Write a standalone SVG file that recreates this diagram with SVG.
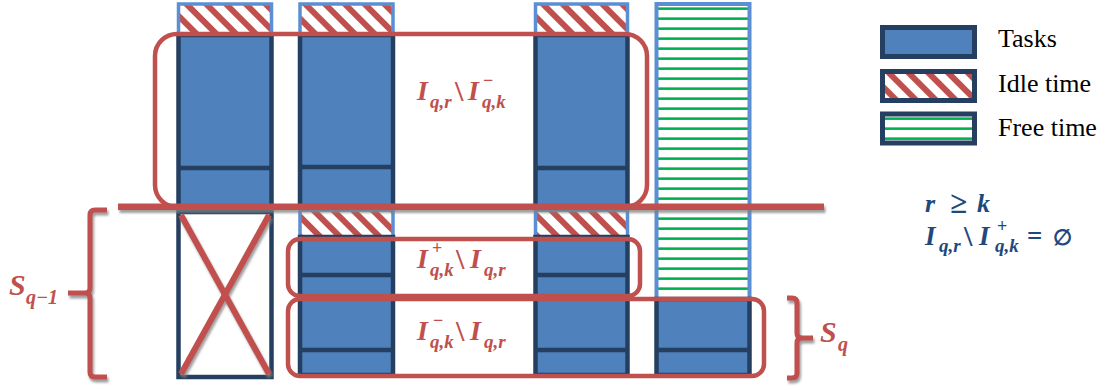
<svg xmlns="http://www.w3.org/2000/svg" width="1110" height="390" viewBox="0 0 1110 390">
<defs>
  <pattern id="hatch" patternUnits="userSpaceOnUse" width="14" height="14" patternTransform="rotate(-45)">
    <rect x="0" y="0" width="14" height="14" fill="#ffffff"/>
    <rect x="0" y="0" width="6" height="14" fill="#C0504D"/>
  </pattern>
  <pattern id="free" patternUnits="userSpaceOnUse" width="10" height="10">
    <rect x="0" y="0" width="10" height="10" fill="#ffffff"/>
    <rect x="0" y="7" width="10" height="3.4" fill="#B9E8C8"/>
    <rect x="0" y="7.5" width="10" height="2.4" fill="#00B050"/>
  </pattern>
  <filter id="sh" filterUnits="userSpaceOnUse" x="0" y="0" width="1110" height="390">
    <feDropShadow dx="1.5" dy="3" stdDeviation="0.8" flood-color="#808080" flood-opacity="0.75"/>
  </filter>
</defs>
<style>
  .task{fill:#4F81BD;stroke:#243F60;stroke-width:4.5}
  .div{stroke:#243F60;stroke-width:4.5}
  .idle{fill:url(#hatch);stroke:#5B8ED2;stroke-width:3.5}
  .freebox{fill:url(#free);stroke:#5B8ED2;stroke-width:4}
  .empty{fill:#ffffff;stroke:#243F60;stroke-width:4.5}
  .redrect{fill:none;stroke:#C0504D;stroke-width:4.5}
  .red{stroke:#C0504D;fill:none;stroke-linecap:butt}
  .m{font-family:"Liberation Serif","DejaVu Serif",serif;font-weight:bold;font-style:italic}
  .up{font-style:normal}
  .rt{fill:#C0504D}
  .bt{fill:#1F497D}
  .leg{font-family:"Liberation Serif","Times New Roman",serif;font-size:26px;fill:#000000}
  .lbox{stroke:#243F60;stroke-width:5}
</style>

<g id="column1">
  <rect class="idle" x="178.5" y="4" width="93" height="31"/>
  <rect class="task" x="178.5" y="35" width="93" height="172"/>
  <line class="div" x1="178.5" y1="168" x2="271.5" y2="168"/>
  <rect class="empty" x="178.5" y="212" width="93" height="165"/>
</g>
<g id="column2">
  <rect class="idle" x="300" y="4" width="93" height="31"/>
  <rect class="task" x="300" y="35" width="93" height="172"/>
  <line class="div" x1="300" y1="167" x2="393" y2="167"/>
  <rect class="idle" x="300" y="210" width="93" height="27"/>
  <rect class="task" x="300" y="237" width="93" height="138"/>
  <line class="div" x1="300" y1="275" x2="393" y2="275"/>
  <line class="div" x1="300" y1="297" x2="393" y2="297"/>
  <line class="div" x1="300" y1="350" x2="393" y2="350"/>
</g>
<g id="column3">
  <rect class="idle" x="535.5" y="4" width="92" height="31"/>
  <rect class="task" x="535.5" y="35" width="92" height="172"/>
  <line class="div" x1="535.5" y1="168" x2="627.5" y2="168"/>
  <rect class="idle" x="535.5" y="210" width="92" height="27"/>
  <rect class="task" x="535.5" y="237" width="92" height="138"/>
  <line class="div" x1="535.5" y1="275" x2="627.5" y2="275"/>
  <line class="div" x1="535.5" y1="297" x2="627.5" y2="297"/>
  <line class="div" x1="535.5" y1="350" x2="627.5" y2="350"/>
</g>
<g id="column4">
  <rect class="freebox" x="656.5" y="4" width="93" height="295"/>
  <rect class="task" x="656.5" y="299" width="93" height="76"/>
  <line class="div" x1="656.5" y1="350" x2="749.5" y2="350"/>
</g>

<g id="set-upper">
  <rect class="redrect" x="155" y="34" width="492" height="173" rx="22" ry="22"/>
  <text class="m rt" font-size="28"><tspan x="417" y="100">I</tspan><tspan x="430" y="108" font-size="19">q,r</tspan><tspan x="455" y="101" class="up" font-size="30">\</tspan><tspan x="468" y="100">I</tspan><tspan x="483" y="86" class="up" font-size="18">−</tspan><tspan x="482" y="108" font-size="19">q,k</tspan></text>
</g>
<g id="set-plus">
  <rect class="redrect" x="288" y="239" width="352" height="57" rx="12" ry="12"/>
  <text class="m rt" font-size="28"><tspan x="417" y="268">I</tspan><tspan x="432" y="254" class="up" font-size="18">+</tspan><tspan x="430" y="276" font-size="19">q,k</tspan><tspan x="456" y="269" class="up" font-size="30">\</tspan><tspan x="470" y="268">I</tspan><tspan x="484" y="276" font-size="19">q,r</tspan></text>
</g>
<g id="set-minus">
  <rect class="redrect" x="288" y="299" width="476" height="77" rx="12" ry="12"/>
  <text class="m rt" font-size="28"><tspan x="417" y="340">I</tspan><tspan x="433" y="326" class="up" font-size="18">−</tspan><tspan x="430" y="348" font-size="19">q,k</tspan><tspan x="456" y="341" class="up" font-size="30">\</tspan><tspan x="470" y="340">I</tspan><tspan x="484" y="348" font-size="19">q,r</tspan></text>
</g>

<g id="connectors">
  <rect x="118" y="203.5" width="706" height="6.5" fill="#C0504D" filter="url(#sh)"/>
  <g filter="url(#sh)">
    <line class="red" x1="181" y1="215" x2="269" y2="374" stroke-width="6"/>
    <line class="red" x1="269" y1="215" x2="181" y2="374" stroke-width="6"/>
  </g>
  <path class="red" stroke-width="5" filter="url(#sh)" d="M107,210 H95 Q90,210 90,215 V288 Q90,293 85,293 H68 M85,293 Q90,293 90,298 V372 Q90,377 95,377 H107"/>
  <path class="red" stroke-width="5" filter="url(#sh)" d="M787,298 H792 Q797,298 797,303 V333 Q797,338 802,338 H813 M802,338 Q797,338 797,343 V373 Q797,378 792,378 H787"/>
</g>

<g id="brace-labels">
  <text class="m rt" font-size="30"><tspan x="9" y="295">S</tspan><tspan x="26" y="304" font-size="20">q−1</tspan></text>
  <text class="m rt" font-size="30"><tspan x="820" y="342">S</tspan><tspan x="838" y="351" font-size="20">q</tspan></text>
</g>

<g id="legend">
  <g id="legend-tasks">
    <rect class="lbox" x="882.5" y="27.5" width="92" height="29" fill="#4F81BD"/>
    <text class="leg" x="998" y="47">Tasks</text>
  </g>
  <g id="legend-idle">
    <rect class="lbox" x="882.5" y="71.5" width="92" height="29" fill="url(#hatch)"/>
    <text class="leg" x="998" y="92">Idle time</text>
  </g>
  <g id="legend-free">
    <rect class="lbox" x="882.5" y="114" width="92" height="29" fill="url(#free)"/>
    <text class="leg" x="998" y="136">Free time</text>
  </g>
</g>

<g id="condition">
  <text class="m bt" font-size="26"><tspan x="925" y="212">r</tspan><tspan x="950" y="213" class="up" font-size="31">≥</tspan><tspan x="977" y="212">k</tspan></text>
  <text class="m bt" font-size="27"><tspan x="925" y="245">I</tspan><tspan x="939" y="252" font-size="19">q,r</tspan><tspan x="964" y="246" class="up" font-size="30">\</tspan><tspan x="979" y="245">I</tspan><tspan x="997" y="232" class="up" font-size="18">+</tspan><tspan x="995" y="252" font-size="19">q,k</tspan><tspan x="1027" y="245" class="up">=</tspan><tspan x="1053" y="245" class="up" font-size="22">∅</tspan></text>
</g>
</svg>
